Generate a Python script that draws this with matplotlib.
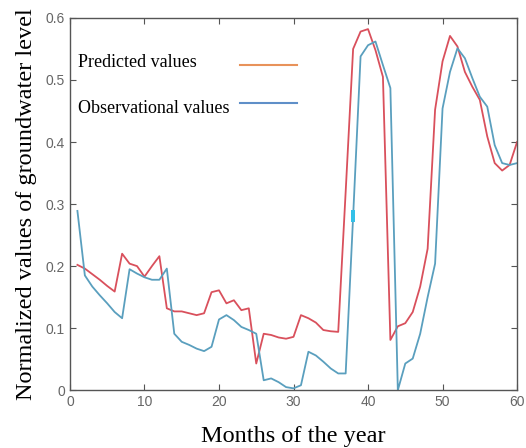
import matplotlib
matplotlib.use("Agg")
import matplotlib.pyplot as plt

months = list(range(1, 61))

predicted = [
    0.202, 0.196, 0.187, 0.178, 0.168, 0.159, 0.220, 0.204, 0.200, 0.183,
    0.200, 0.216, 0.132, 0.127, 0.127, 0.124, 0.121, 0.124, 0.158, 0.161,
    0.140, 0.145, 0.129, 0.132, 0.043, 0.091, 0.089, 0.085, 0.083, 0.086,
    0.121, 0.116, 0.109, 0.097, 0.095, 0.094, 0.320, 0.550, 0.578, 0.582,
    0.548, 0.505, 0.081, 0.103, 0.108, 0.126, 0.167, 0.228, 0.452, 0.530,
    0.571, 0.554, 0.513, 0.489, 0.468, 0.409, 0.366, 0.354, 0.363, 0.400,
]

observed = [
    0.289, 0.185, 0.167, 0.153, 0.140, 0.126, 0.116, 0.195, 0.188, 0.182,
    0.178, 0.178, 0.196, 0.091, 0.078, 0.073, 0.067, 0.063, 0.070, 0.114,
    0.121, 0.113, 0.102, 0.097, 0.091, 0.016, 0.019, 0.013, 0.005, 0.003,
    0.008, 0.062, 0.056, 0.046, 0.035, 0.027, 0.027, 0.280, 0.538, 0.556,
    0.562, 0.524, 0.487, 0.000, 0.043, 0.051, 0.091, 0.150, 0.204, 0.454,
    0.513, 0.551, 0.535, 0.503, 0.473, 0.457, 0.395, 0.366, 0.363, 0.366,
]

# highlighted observation
mark_month = [38]
mark_value = [0.28]

series_labels = ["Predicted values", "Observational values"]
legend_colors = ["#e8925a", "#5f8fc8"]

fig = plt.figure(figsize=(5.26, 4.48), dpi=100)
ax = fig.add_axes([0.133, 0.129, 0.85, 0.831])

ax.plot(months, predicted, color="#d9505c", linewidth=1.3)
ax.plot(months, observed, color="#5a9fbe", linewidth=1.3)
bar_marker = [(-0.4, -1), (0.4, -1), (0.4, 1), (-0.4, 1), (-0.4, -1)]
ax.plot(mark_month, mark_value, marker=bar_marker, linestyle="none",
        markersize=8, color="#33c0e8", markeredgewidth=0)

ax.set_xlim(0, 60)
ax.set_ylim(0, 0.6)
ax.set_xticks([0, 10, 20, 30, 40, 50, 60])
ax.set_yticks([0, 0.1, 0.2, 0.3, 0.4, 0.5, 0.6])
ax.set_yticklabels(["0", "0.1", "0.2", "0.3", "0.4", "0.5", "0.6"])

ax.tick_params(direction="in", top=True, right=True, length=4,
               color="#555555", labelcolor="#666666", labelsize=10)
for lbl in ax.get_xticklabels() + ax.get_yticklabels():
    lbl.set_family("Liberation Sans")
for s in ax.spines.values():
    s.set_color("#555555")
    s.set_linewidth(1.0)

ax.set_xlabel("Months of the year", family="Liberation Serif",
              fontsize=17.5, labelpad=12)
ax.set_ylabel("Normalized values of groundwater level",
              family="Liberation Serif", fontsize=17.5, labelpad=6)

# legend: left-aligned labels with the sample lines after them
text_y = [0.879, 0.758]
line_y = [0.874, 0.772]
for lab, col, ty, ly in zip(series_labels, legend_colors, text_y, line_y):
    ax.text(0.018, ty, lab, transform=ax.transAxes, ha="left", va="center",
            family="Liberation Serif", fontsize=13)
    ax.plot([0.38, 0.508], [ly, ly], transform=ax.transAxes,
            color=col, linewidth=1.5)

fig.savefig("out.png", dpi=100, facecolor="white")
